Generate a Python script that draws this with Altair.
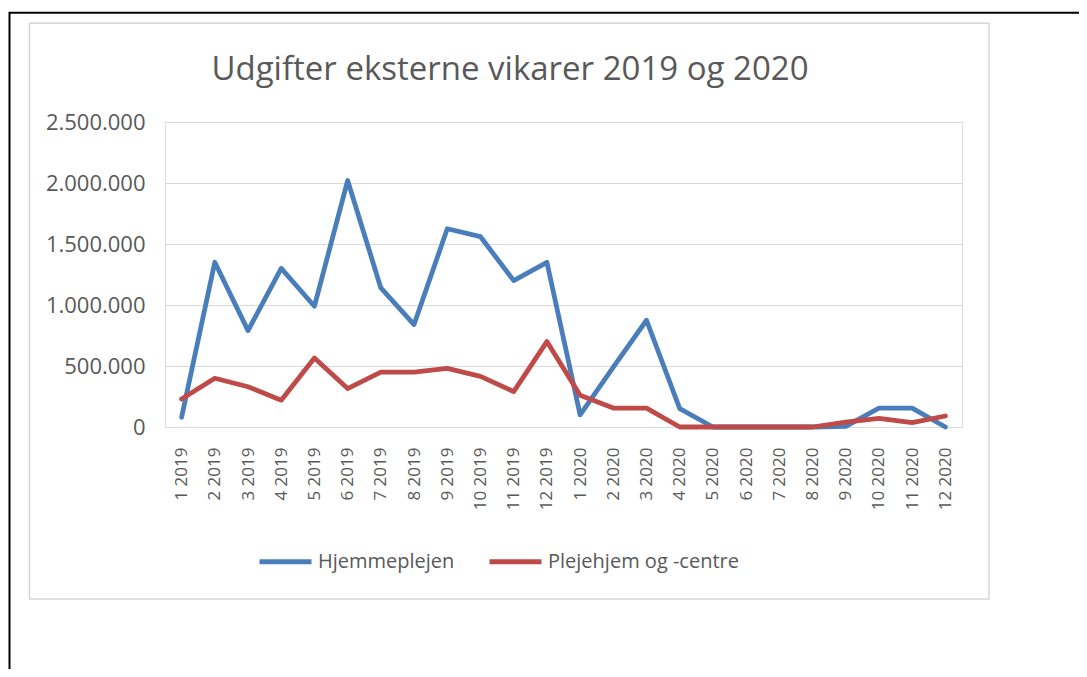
import altair as alt
import pandas as pd

months = ["1 2019", "2 2019", "3 2019", "4 2019", "5 2019", "6 2019", "7 2019", "8 2019",
          "9 2019", "10 2019", "11 2019", "12 2019", "1 2020", "2 2020", "3 2020", "4 2020",
          "5 2020", "6 2020", "7 2020", "8 2020", "9 2020", "10 2020", "11 2020", "12 2020"]
hjem = [80000, 1350000, 790000, 1300000, 990000, 2020000, 1140000, 840000,
        1625000, 1560000, 1200000, 1350000, 100000, 490000, 875000, 150000,
        0, 0, 0, 0, 5000, 155000, 155000, 0]
pleje = [230000, 400000, 330000, 220000, 565000, 315000, 450000, 450000,
         480000, 415000, 290000, 700000, 260000, 155000, 155000, 0,
         0, 0, 0, 0, 40000, 70000, 36000, 90000]
series = ["Hjemmeplejen", "Plejehjem og -centre"]
colors = ["#4A7EBB", "#BE4B48"]
y_ticks = [0, 500000, 1000000, 1500000, 2000000, 2500000]
title_text = ["Udgifter eksterne vikarer 2019 og 2020"]

df = pd.DataFrame({
    "Måned": months * 2,
    "Serie": [series[0]] * len(months) + [series[1]] * len(months),
    "Udgift": hjem + pleje,
})
one = pd.DataFrame({"k": [0]})
tdf = pd.DataFrame({"t": title_text})

W, H = 797, 305
PL, PT = 157, 114
PR, PB = 1071 - PL - W, 661 - PT - H
FONT = "Open Sans"
GRAY = "#595959"

frame = alt.Chart(one).mark_rect(fill="white", fillOpacity=0, stroke="black", strokeWidth=2).encode(
    x=alt.value(-155.5), x2=alt.value(1300), y=alt.value(-109.2), y2=alt.value(900))

box = alt.Chart(one).mark_rect(fill="white", fillOpacity=0, stroke="#D6D6D6", strokeWidth=1.5).encode(
    x=alt.value(-135.5), x2=alt.value(824), y=alt.value(-98.7), y2=alt.value(477))

title = alt.Chart(tdf).mark_text(fontSize=33, font=FONT, color=GRAY, align="center",
                                 baseline="alphabetic").encode(
    text="t:N", x=alt.value(345), y=alt.value(-42))

lines = alt.Chart(df).mark_line(strokeWidth=4.8, strokeJoin="round", strokeCap="round").encode(
    x=alt.X("Måned:O", sort=months, scale=alt.Scale(padding=0.5),
            axis=alt.Axis(title=None, labelAngle=270, labelFontSize=17, labelColor=GRAY,
                          labelFont=FONT, labelPadding=20, ticks=False, tickSize=0,
                          domain=False, grid=False)),
    y=alt.Y("Udgift:Q", scale=alt.Scale(domain=[0, 2500000], nice=False),
            axis=alt.Axis(title=None, values=y_ticks, grid=True, gridColor="#D9D9D9",
                          gridWidth=1.2, domain=False, ticks=False, tickSize=0,
                          labelPadding=20, labelFontSize=22, labelColor=GRAY, labelFont=FONT,
                          labelExpr="replace(format(datum.value, ','), /,/g, '.')")),
    color=alt.Color("Serie:N", sort=series, scale=alt.Scale(domain=series, range=colors),
                    legend=alt.Legend(title=None, orient="none", legendX=92, legendY=411,
                                      direction="horizontal", symbolType="stroke",
                                      symbolStrokeWidth=4.8, symbolSize=2704,
                                      labelFontSize=20, labelColor=GRAY, labelFont=FONT,
                                      labelLimit=400, columnPadding=24, labelOffset=4,
                                      padding=0)),
)

chart = alt.layer(frame, box, title, lines).properties(
    width=W, height=H,
    padding={"left": PL, "top": PT, "right": PR, "bottom": PB},
    autosize=alt.AutoSizeParams(type="none"),
    background="white",
).configure_view(stroke=None).configure(font=FONT)

chart.save("out.html", embed_options={"renderer": "svg", "actions": False})
